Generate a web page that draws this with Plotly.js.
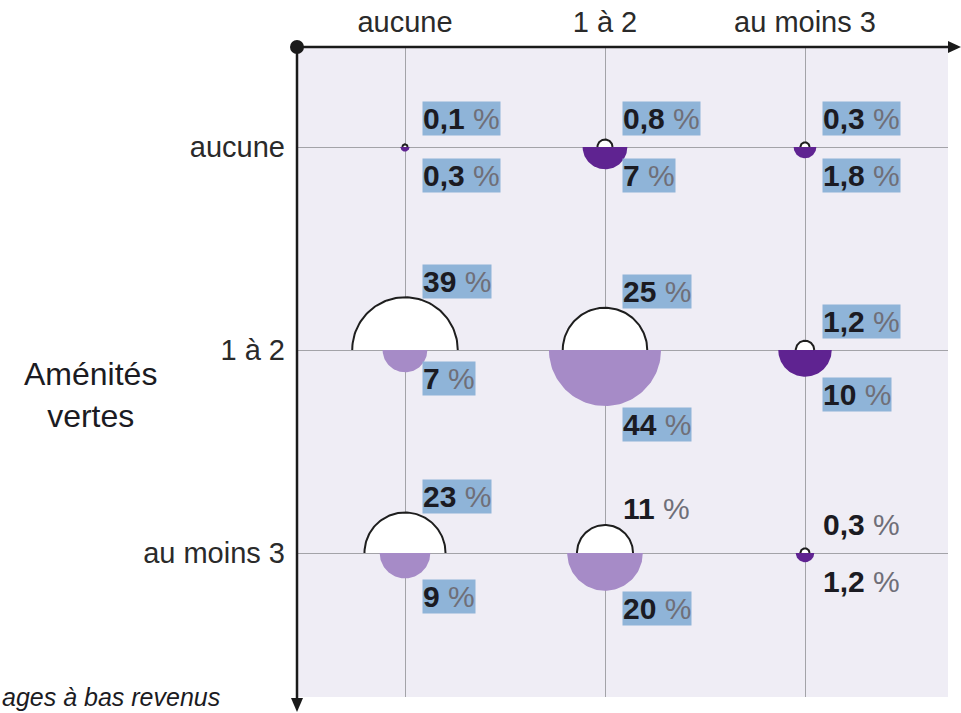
<!DOCTYPE html>
<html>
<head>
<meta charset="utf-8">
<script src="https://cdn.plot.ly/plotly-3.0.1.min.js"></script>
<style>html,body{margin:0;padding:0;background:#fff;}#chart{width:961px;height:713px;}</style>
</head>
<body>
<div id="chart"></div>
<script>
// ---- Data ----
const colCategories = ['aucune', '1 à 2', 'au moins 3'];
const rowCategories = ['aucune', '1 à 2', 'au moins 3'];
// upper (white) half-discs, one array per row (Aménités vertes)
const upperRowAucune = [0.1, 0.8, 0.3];
const upperRow1a2 = [39, 25, 1.2];
const upperRowAuMoins3 = [23, 11, 0.3];
// lower (purple) half-discs : ménages à bas revenus
const lowerRowAucune = [0.3, 7, 1.8];
const lowerRow1a2 = [7, 44, 10];
const lowerRowAuMoins3 = [9, 20, 1.2];
// colour group of the lower half-disc (1 = dark purple)
const darkRowAucune = [1, 1, 1];
const darkRow1a2 = [0, 0, 1];
const darkRowAuMoins3 = [0, 0, 1];
// highlighted (selected) label boxes
const hlUpper = [[1, 1, 1], [1, 1, 1], [1, 0, 0]];
const hlLower = [[1, 1, 1], [1, 1, 1], [1, 1, 0]];

const upperValues = [upperRowAucune, upperRow1a2, upperRowAuMoins3];
const lowerValues = [lowerRowAucune, lowerRow1a2, lowerRowAuMoins3];
const darkFlags = [darkRowAucune, darkRow1a2, darkRowAuMoins3];

// ---- Geometry / style ----
const PX_X = 200, PX_Y = 203;   // pixels per category step
const K = 8.45;                 // radius (px) = K * sqrt(value)
const DARK = '#5f2391', LIGHT = '#a68bc7';
const FONT = '"Liberation Sans Narrow", "Arial Narrow", "Liberation Sans", Arial, sans-serif';
const HL = '#8fb4d8';

const xs = [1, 2, 3], ys = [1, 2, 3];
const N = 72;
const traces = [];
const annotations = [];
const fmt = v => String(v).replace('.', ',');

for (let i = 0; i < 3; i++) {
  for (let j = 0; j < 3; j++) {
    const cx = xs[j], cy = ys[i];
    const rU = K * Math.sqrt(upperValues[i][j]);
    const rL = K * Math.sqrt(lowerValues[i][j]);
    const ux = [], uy = [], lx = [], ly = [];
    for (let k = 0; k <= N; k++) {
      const t = Math.PI * k / N;
      ux.push(cx + rU / PX_X * Math.cos(t));
      uy.push(cy - rU / PX_Y * Math.sin(t));
      lx.push(cx + rL / PX_X * Math.cos(t));
      ly.push(cy + rL / PX_Y * Math.sin(t));
    }
    traces.push({x: lx, y: ly, mode: 'lines', fill: 'toself', fillcolor: darkFlags[i][j] ? DARK : LIGHT,
      line: {width: 0, color: darkFlags[i][j] ? DARK : LIGHT}, hoverinfo: 'skip', showlegend: false});
    traces.push({x: ux, y: uy, mode: 'lines', fill: 'toself', fillcolor: '#ffffff',
      line: {width: 0, color: '#ffffff'}, hoverinfo: 'skip', showlegend: false});
    traces.push({x: ux, y: uy, mode: 'lines', line: {width: 2, color: '#1e1e1e'}, hoverinfo: 'skip', showlegend: false});

    const lab = v => '<b>' + fmt(v) + '</b> <span style="color:#6f6f78">%</span>';
    // label sits right of the column line, clear of the half-disc
    const offU = rU > 20 ? rU + 16 : 29;
    const offL = rL > 24 ? rL + 18 : 28;
    annotations.push({x: cx, y: cy, xref: 'x', yref: 'y', xanchor: 'left', yanchor: 'middle',
      xshift: 17, yshift: offU, showarrow: false, text: lab(upperValues[i][j]),
      font: {family: FONT, size: 30, color: '#1b1b22'}, bgcolor: hlUpper[i][j] ? HL : 'rgba(0,0,0,0)', borderpad: 0});
    annotations.push({x: cx, y: cy, xref: 'x', yref: 'y', xanchor: 'left', yanchor: 'middle',
      xshift: 17, yshift: -offL, showarrow: false, text: lab(lowerValues[i][j]),
      font: {family: FONT, size: 30, color: '#1b1b22'}, bgcolor: hlLower[i][j] ? HL : 'rgba(0,0,0,0)', borderpad: 0});
  }
}

annotations.push({xref: 'paper', yref: 'paper', x: -0.32, y: 0.465, xanchor: 'center', yanchor: 'middle',
  showarrow: false, text: 'Aménités<br>vertes', font: {family: FONT, size: 32, color: '#1b1b22'}});
annotations.push({xref: 'paper', yref: 'paper', x: -0.4585, y: 0.0, xanchor: 'left', yanchor: 'middle',
  showarrow: false, text: '<i>ages à bas revenus</i>', font: {family: FONT, size: 25, color: '#1b1b22'}});

// axis decorations (paper coords: 650 px per unit on both axes)
const u = 1 / 650;
const shapes = [
  {type: 'line', xref: 'paper', yref: 'paper', x0: -1 * u, y0: 1, x1: 1 + 4 * u, y1: 1, line: {color: '#1a1a1a', width: 2.5}, layer: 'above'},
  {type: 'path', xref: 'paper', yref: 'paper', path: `M ${1 + 0 * u},${1 + 6 * u} L ${1 + 13 * u},1 L ${1 + 0 * u},${1 - 6 * u} Z`, fillcolor: '#1a1a1a', line: {width: 0}, layer: 'above'},
  {type: 'line', xref: 'paper', yref: 'paper', x0: -1 * u, y0: 1, x1: -1 * u, y1: -3 * u, line: {color: '#1a1a1a', width: 2.5}, layer: 'above'},
  {type: 'path', xref: 'paper', yref: 'paper', path: `M ${-7 * u},${-1 * u} L ${-1 * u},${-15 * u} L ${5 * u},${-1 * u} Z`, fillcolor: '#1a1a1a', line: {width: 0}, layer: 'above'},
  {type: 'circle', xref: 'paper', yref: 'paper', x0: -8 * u, y0: 1 - 7 * u, x1: 6 * u, y1: 1 + 7 * u, fillcolor: '#1a1a1a', line: {width: 0}, layer: 'above'}
];

const layout = {
  width: 961, height: 713,
  margin: {l: 298, r: 13, t: 47, b: 16, pad: 0},
  paper_bgcolor: '#ffffff', plot_bgcolor: '#efedf5',
  showlegend: false,
  xaxis: {range: [1 - 107 / PX_X, 3 + 143 / PX_X], side: 'top', tickvals: xs, ticktext: colCategories,
    showgrid: true, gridcolor: '#a3a3a8', gridwidth: 1, zeroline: false, showline: false, ticks: '',
    ticklabelstandoff: 8,
    tickfont: {family: FONT, size: 29, color: '#2a2a2a'}, fixedrange: true},
  yaxis: {range: [3 + 144 / PX_Y, 1 - 100 / PX_Y], tickvals: ys, ticktext: rowCategories,
    showgrid: true, gridcolor: '#a3a3a8', gridwidth: 1, zeroline: false, showline: false, ticks: '',
    ticklabelstandoff: 12,
    tickfont: {family: FONT, size: 29, color: '#2a2a2a'}, fixedrange: true},
  annotations: annotations,
  shapes: shapes
};

Plotly.newPlot('chart', traces, layout, {displayModeBar: false, staticPlot: true});
</script>
</body>
</html>
